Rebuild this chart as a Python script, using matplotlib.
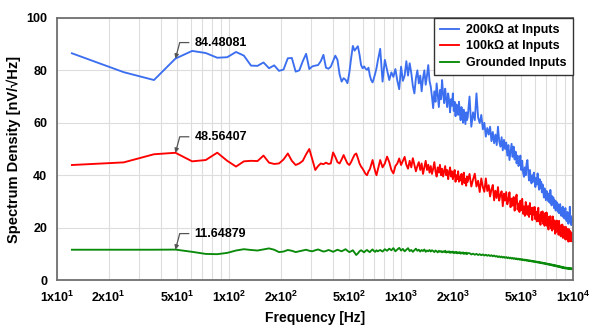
import numpy as np
import matplotlib
matplotlib.use("Agg")
import matplotlib.pyplot as plt

plt.rcParams["font.family"] = ["Liberation Sans", "DejaVu Sans"]
plt.rcParams["font.weight"] = "bold"
plt.rcParams["mathtext.fontset"] = "custom"
plt.rcParams["mathtext.rm"] = "Liberation Sans:bold"
plt.rcParams["mathtext.bf"] = "Liberation Sans:bold"

# FFT bin width (Hz); bins 1..60, then every 2nd up to 200, then every 5th
BIN_HZ = 12.207

blue_a = [86.5, 79.3, 76.3, 84.48081, 87.4, 86.6, 84.8, 85.0, 87.0, 85.6,
          81.8, 81.7, 83.0, 80.8, 81.9, 79.8, 80.3, 84.6, 84.7, 79.5,
          80.0, 83.5, 86.3, 80.5, 81.5, 81.8, 82.0, 83.5, 85.9, 81.0,
          80.6, 81.4, 83.5, 85.6, 84.0, 78.5, 75.7, 77.0, 76.4, 75.1,
          79.0, 84.5, 89.3, 87.5, 88.4, 89.2, 86.0, 82.0, 80.8, 81.5,
          80.6, 80.2, 81.0, 78.0, 76.2, 75.4, 77.0, 78.8, 80.8, 83.5]
blue_b = [88.2, 75.7, 84.0, 80.0, 76.3, 79.2, 77.5, 80.5, 76.0, 72.8,
          81.4, 76.0, 78.0, 83.5, 78.0, 82.7, 79.0, 74.0, 71.2, 77.0,
          80.0, 75.0, 78.0, 72.0, 77.0, 80.0, 74.5, 78.0, 82.0, 76.0,
          73.8, 70.0, 65.6, 72.0, 68.0, 75.0, 70.5, 66.0, 72.5, 69.0,
          76.3, 71.0, 67.5, 73.0, 69.0, 66.0, 71.2, 68.5, 64.0, 69.0,
          66.5, 71.2, 64.5, 68.0, 62.5, 67.0, 66.2, 63.0, 68.0, 64.0,
          61.0, 66.0, 63.5, 60.0, 65.0, 62.4, 59.5, 64.0, 61.0, 62.0]
blue_c = [70.0, 58.5, 64.0, 61.0, 71.2, 62.0, 59.9, 63.0, 57.5, 60.0,
          54.7, 58.0, 55.5, 58.5, 53.0, 56.5, 52.2, 55.5, 51.5, 58.5,
          53.0, 50.9, 54.5, 49.5, 53.5, 50.0, 52.5, 47.5, 51.5, 45.8,
          49.0, 52.0, 47.0, 50.9, 46.0, 49.0, 44.5, 47.5, 43.5, 44.5,
          47.5, 42.0, 45.5, 41.0, 39.4, 43.0, 40.0, 44.5, 45.8, 41.0,
          38.0, 42.0, 39.0, 36.9, 40.0, 37.5, 41.0, 38.0, 35.5, 39.0,
          36.5, 40.7, 37.0, 34.5, 38.5, 35.0, 37.5, 33.5, 36.5, 34.0,
          31.5, 35.0, 32.5, 30.5, 34.0, 31.0, 33.1, 30.0, 32.5, 29.5,
          34.4, 31.0, 28.5, 32.0, 29.0, 31.5, 27.5, 30.5, 28.0, 26.5,
          30.0, 27.0, 29.3, 26.0, 28.5, 25.5, 27.5, 29.0, 26.0, 24.5,
          27.5, 25.0, 28.0, 24.0, 26.5, 23.5, 25.5, 27.5, 23.0, 25.0,
          22.5, 26.0, 24.2, 21.5, 25.0, 23.0, 28.0, 22.0, 24.5, 21.0,
          23.5, 22.0, 22.5]

red_a = [43.9, 44.9, 48.0, 48.56407, 45.3, 45.8, 48.6, 45.5, 43.3, 45.3,
         45.5, 45.4, 47.5, 44.8, 44.3, 44.5, 46.0, 48.3, 45.5, 43.9,
         44.5, 45.5, 48.0, 50.0, 46.0, 42.0, 43.5, 44.5, 44.2, 44.8,
         44.3, 44.5, 48.7, 47.0, 45.0, 44.5, 46.0, 47.7, 46.0, 44.5,
         43.9, 45.0, 46.5, 47.8, 48.3, 46.5, 44.5, 43.3, 42.5, 41.5,
         40.5, 40.0, 41.5, 42.3, 44.0, 45.8, 43.5, 41.5, 40.0, 42.0]
red_b = [45.8, 43.0, 44.5, 47.1, 45.0, 42.0, 40.7, 43.5, 44.5, 46.4,
         43.9, 45.5, 47.0, 44.0, 42.5, 45.5, 43.0, 46.5, 44.0, 41.5,
         43.5, 45.0, 42.0, 44.5, 40.5, 43.0, 45.5, 42.0, 44.0, 41.0,
         43.5, 40.5, 42.5, 45.0, 41.5, 39.5, 43.0, 41.0, 44.0, 40.0,
         42.5, 39.5, 41.5, 43.5, 40.0, 42.0, 38.5, 41.0, 43.0, 39.5,
         41.5, 38.5, 40.5, 42.0, 37.5, 40.0, 38.5, 41.5, 37.5, 39.5,
         38.0, 40.5, 36.5, 39.0, 41.0, 37.0, 38.5, 36.0, 39.5, 37.5]
red_c = [40.5, 35.7, 38.4, 40.6, 35.7, 37.9, 33.6, 38.8, 35.5, 33.7,
         38.8, 34.0, 36.2, 31.9, 34.6, 36.3, 30.4, 34.1, 31.3, 35.5,
         30.3, 32.6, 33.9, 28.2, 33.0, 30.3, 33.6, 28.9, 30.7, 33.5,
         27.8, 31.1, 28.4, 31.7, 26.5, 30.8, 32.6, 26.9, 29.2, 26.0,
         30.3, 26.7, 31.0, 25.3, 28.1, 24.5, 29.8, 28.1, 24.9, 28.2,
         24.1, 29.4, 25.2, 27.5, 22.9, 27.7, 25.0, 27.9, 23.2, 26.0,
         22.4, 26.2, 27.6, 22.4, 24.8, 21.1, 26.0, 22.8, 26.2, 21.5,
         24.4, 20.7, 25.6, 21.4, 25.8, 20.6, 23.0, 19.3, 24.2, 21.0,
         24.4, 19.7, 22.6, 18.9, 24.3, 19.6, 21.5, 22.8, 17.7, 22.0,
         18.4, 22.7, 19.1, 21.4, 17.3, 22.6, 17.5, 19.8, 16.7, 21.0,
         17.4, 21.2, 16.1, 19.5, 20.4, 16.2, 18.6, 15.5, 20.3, 16.7,
         19.6, 15.4, 18.8, 14.7, 19.5, 15.9, 14.8, 18.7, 15.0, 17.9,
         14.8, 17.6, 15.0]

green_a = [11.6, 11.6, 11.6, 11.64879, 10.8, 10.0, 9.9, 10.4, 11.3, 11.8,
           11.5, 11.3, 11.7, 12.1, 11.6, 10.7, 10.9, 11.5, 11.2, 10.7,
           11.0, 11.3, 11.6, 11.2, 11.0, 11.4, 11.7, 11.3, 10.9, 11.1,
           11.5, 11.2, 10.8, 11.2, 11.6, 11.3, 11.0, 11.4, 11.8, 11.2,
           10.7, 11.0, 11.4, 10.5, 9.6, 10.2, 11.0, 11.4, 11.0, 10.6,
           11.2, 11.5, 11.0, 10.7, 11.3, 11.7, 11.1, 10.8, 11.4, 11.0]
green_b = [11.5, 10.9, 11.8, 11.2, 12.0, 11.4, 12.2, 11.0, 11.7, 12.3,
           11.3, 11.9, 11.0, 11.6, 12.2, 11.1, 11.5, 10.8, 11.4, 12.0,
           11.2, 11.6, 10.9, 11.5, 11.1, 11.7, 10.8, 11.3, 11.0, 11.5,
           10.9, 11.4, 11.1, 10.7, 11.3, 11.0, 10.6, 11.2, 10.8, 11.1,
           10.6, 11.0, 10.7, 11.2, 10.5, 10.9, 10.6, 11.0, 10.4, 10.8,
           10.5, 10.9, 10.3, 10.7, 10.4, 10.8, 10.2, 10.6, 10.3, 10.7,
           10.1, 10.5, 10.2, 10.6, 10.0, 10.4, 10.1, 10.5, 9.9, 10.3]
green_c = [10.3, 9.8, 10.1, 9.7, 10.0, 9.6, 9.9, 9.5, 9.8, 9.4,
           9.7, 9.3, 9.6, 9.2, 9.5, 9.1, 9.4, 9.0, 9.2, 8.8,
           9.1, 8.7, 9.0, 8.6, 8.9, 8.5, 8.8, 8.4, 8.7, 8.3,
           8.6, 8.2, 8.5, 8.1, 8.4, 8.0, 8.3, 7.9, 8.2, 7.8,
           8.1, 7.7, 8.0, 7.6, 7.9, 7.5, 7.8, 7.4, 7.7, 7.3,
           7.6, 7.2, 7.5, 7.1, 7.4, 7.0, 7.3, 6.9, 7.2, 6.8,
           7.1, 6.7, 7.0, 6.6, 6.9, 6.5, 6.8, 6.4, 6.7, 6.3,
           6.6, 6.2, 6.5, 6.1, 6.4, 6.0, 6.3, 5.9, 6.2, 5.8,
           6.1, 5.7, 6.0, 5.6, 5.9, 5.5, 5.8, 5.4, 5.7, 5.3,
           5.6, 5.2, 5.5, 5.1, 5.4, 5.0, 5.3, 4.9, 5.2, 4.8,
           5.1, 4.7, 5.0, 4.6, 4.9, 4.5, 4.8, 4.5, 4.8, 4.4,
           4.7, 4.4, 4.7, 4.3, 4.6, 4.3, 4.6, 4.2, 4.5, 4.2,
           4.5, 4.1, 4.4]

series = [
    ("200k\u03a9 at Inputs", "#3c6ff0", (blue_a, blue_b, blue_c)),
    ("100k\u03a9 at Inputs", "#ff0000", (red_a, red_b, red_c)),
    ("Grounded Inputs", "#0a8a0a", (green_a, green_b, green_c)),
]

xticks = [10, 20, 50, 100, 200, 500, 1000, 2000, 5000, 10000]
xticklabels = ["1x10$^1$", "2x10$^1$", "5x10$^1$", "1x10$^2$", "2x10$^2$",
               "5x10$^2$", "1x10$^3$", "2x10$^3$", "5x10$^3$", "1x10$^4$"]
yticks = [0, 20, 40, 60, 80, 100]


def bins_for(a, b, c):
    return BIN_HZ * np.concatenate([
        1 + np.arange(len(a)),
        62 + 2 * np.arange(len(b)),
        205 + 5 * np.arange(len(c)),
    ])


fig = plt.figure(figsize=(6.0, 3.25), dpi=100)
ax = fig.add_axes([0.095, 0.138, 0.86, 0.807])

for label, color, parts in series:
    f = bins_for(*parts)
    v = np.concatenate(parts)
    ax.plot(f, v, color=color, lw=1.35, label=label)
    # marker value at the 4th bin
    ax.annotate(f"{parts[0][3]:.5f}", xy=(f[3], v[3]), xytext=(19, 16),
                textcoords="offset pixels", ha="left", va="center",
                fontsize=9, fontweight="bold", color="black",
                arrowprops=dict(arrowstyle="-|>", color="#555555", lw=0.9,
                                mutation_scale=6, shrinkA=2, shrinkB=0,
                                relpos=(0, 0.5),
                                connectionstyle="angle,angleA=0,angleB=75,rad=0"))

ax.set_xscale("log")
ax.set_xlim(10, 10000)
ax.set_ylim(0, 100)
ax.set_xticks(xticks)
ax.set_xticklabels(xticklabels)
ax.set_xticks([m * 10 ** e for e in range(1, 4) for m in range(2, 10)], minor=True)
ax.set_yticks(yticks)
ax.tick_params(axis="both", which="both", length=0, labelsize=9, pad=7)
for t in ax.get_xticklabels() + ax.get_yticklabels():
    t.set_fontweight("bold")
ax.grid(True, which="both", axis="x", color="#dddddd", lw=0.8)
ax.grid(True, which="major", axis="y", color="#dddddd", lw=0.8)
ax.set_axisbelow(True)
for s in ax.spines.values():
    s.set_color("#707070")
    s.set_linewidth(1.3)

ax.set_xlabel("Frequency [Hz]", fontsize=10, fontweight="bold", labelpad=4)
ax.set_ylabel("Spectrum Density [nV/\u221aHz]", fontsize=10.5, fontweight="bold",
              labelpad=4)

leg = ax.legend(loc="upper right", borderaxespad=0, fancybox=False,
                framealpha=1, edgecolor="#333333", fontsize=9,
                handlelength=1.5, handletextpad=0.6, labelspacing=0.35,
                borderpad=0.5)
leg.get_frame().set_linewidth(1.0)
for t in leg.get_texts():
    t.set_fontweight("bold")

fig.savefig("out.png", dpi=100)
